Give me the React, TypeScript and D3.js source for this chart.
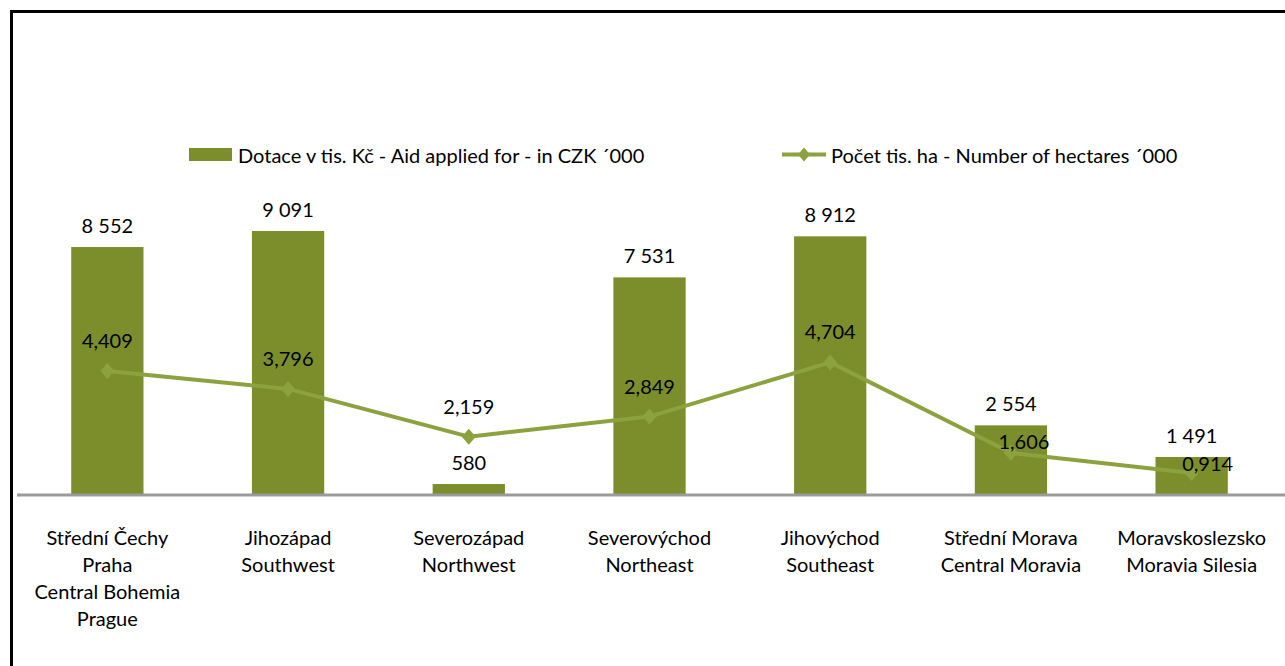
import React from "react";
import * as d3 from "d3";

const categories: string[][] = [
  ["Střední Čechy", "Praha", "Central Bohemia", "Prague"],
  ["Jihozápad", "Southwest"],
  ["Severozápad", "Northwest"],
  ["Severovýchod", "Northeast"],
  ["Jihovýchod", "Southeast"],
  ["Střední Morava", "Central Moravia"],
  ["Moravskoslezsko", "Moravia Silesia"],
];
const aidValues = [8552, 9091, 580, 7531, 8912, 2554, 1491];
const aidLabels = ["8 552", "9 091", "580", "7 531", "8 912", "2 554", "1 491"];
const hectareValues = [4.409, 3.796, 2.159, 2.849, 4.704, 1.606, 0.914];
const hectareLabels = ["4,409", "3,796", "2,159", "2,849", "4,704", "1,606", "0,914"];
// manual label nudges (as in the original chart) for the line labels: [dx, dy]
const hectareLabelNudge: [number, number][] = [[0, 0], [0, 0], [0, 0], [0, 0], [0, 0], [13, 19], [16, 21]];

const legendBar = "Dotace v tis. Kč - Aid applied for - in CZK ´000";
const legendLine = "Počet tis. ha - Number of hectares ´000";

const W = 1285;
const H = 666;
const BAR = "#7b8e2b";
const LINE = "#8ca23e";
const FONT = "Lato, 'Open Sans', sans-serif";
const FS = 20;

export default function App() {
  const ids = categories.map((_, i) => String(i));
  const x = d3.scaleBand<string>().domain(ids).range([17, 1282]).paddingInner(0.6).paddingOuter(0.3);
  const baseY = 494;
  const yBar = d3.scaleLinear().domain([0, 9091]).range([501.3, 231]);
  const yLine = d3.scaleLinear().domain([0, 4.704]).range([499.7, 362.4]);
  const cx = (i: number) => (x(String(i)) as number) + x.bandwidth() / 2;

  const lineGen = d3
    .line<number>()
    .x((_, i) => cx(i))
    .y((d) => yLine(d));

  const diamond = (px: number, py: number, hw = 7, hh = 8) =>
    `M${px},${py - hh}L${px + hw},${py}L${px},${py + hh}L${px - hw},${py}Z`;

  return (
    <svg
      width={W}
      height={H}
      style={{ position: "absolute", left: 0, top: 0, background: "#fff" }}
      fontFamily={FONT}
      fontSize={FS}
    >
      <rect x={11.5} y={11.5} width={W + 10} height={H + 10} fill="#fff" stroke="#000" strokeWidth={3} />

      {/* legend */}
      <rect x={189} y={148} width={43} height={13} fill={BAR} />
      <text x={238} y={154.5} dominantBaseline="central" fill="#000">{legendBar}</text>
      <line x1={782} x2={826} y1={154.5} y2={154.5} stroke={LINE} strokeWidth={4} />
      <path d={diamond(804, 154.5, 6, 7)} fill={LINE} />
      <text x={831} y={154.5} dominantBaseline="central" fill="#000">{legendLine}</text>

      {/* bars */}
      {aidValues.map((v, i) => (
        <rect key={"b" + i} x={x(String(i))} y={yBar(v)} width={x.bandwidth()} height={baseY - yBar(v)} fill={BAR} />
      ))}

      {/* axis baseline */}
      <line x1={17} x2={W} y1={baseY + 1} y2={baseY + 1} stroke="#9a9a9a" strokeWidth={3} />

      {/* bar labels */}
      {aidValues.map((v, i) => (
        <text key={"bl" + i} x={cx(i)} y={yBar(v) - 22} textAnchor="middle" dominantBaseline="central" fill="#000">
          {aidLabels[i]}
        </text>
      ))}

      {/* line */}
      <path d={lineGen(hectareValues) || ""} fill="none" stroke={LINE} strokeWidth={4} strokeLinejoin="round" />
      {hectareValues.map((v, i) => (
        <path key={"m" + i} d={diamond(cx(i), yLine(v))} fill={LINE} />
      ))}
      {hectareValues.map((v, i) => (
        <text
          key={"ll" + i}
          x={cx(i) + hectareLabelNudge[i][0]}
          y={yLine(v) - 31 + hectareLabelNudge[i][1]}
          textAnchor="middle"
          dominantBaseline="central"
          fill="#000"
        >
          {hectareLabels[i]}
        </text>
      ))}

      {/* category labels */}
      {categories.map((lines, i) => (
        <text key={"c" + i} x={cx(i)} textAnchor="middle" fill="#000">
          {lines.map((t, j) => (
            <tspan key={j} x={cx(i)} y={537 + j * 27} dominantBaseline="central">
              {t}
            </tspan>
          ))}
        </text>
      ))}
    </svg>
  );
}
